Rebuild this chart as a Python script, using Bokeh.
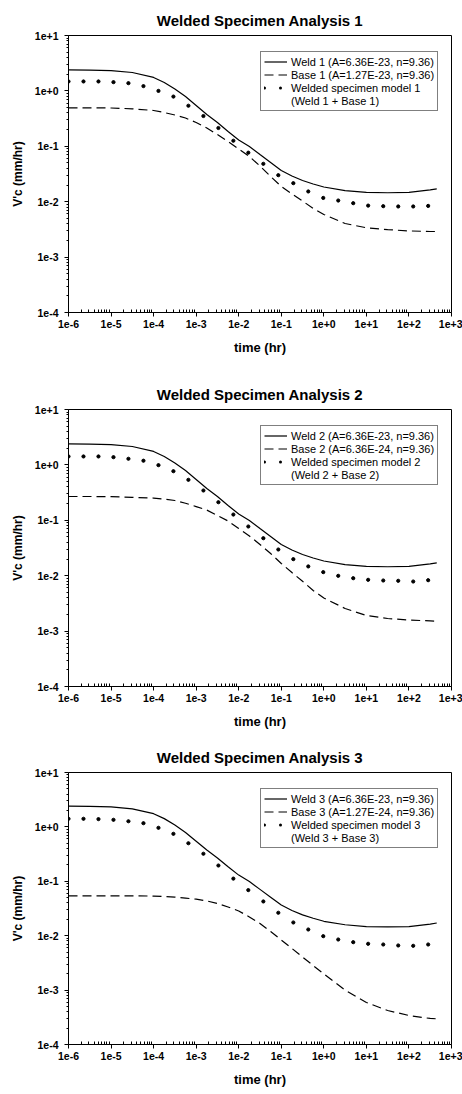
from bokeh.plotting import figure
from bokeh.models import FixedTicker, Legend, LegendItem
from bokeh.layouts import column
from bokeh.embed import file_html
from bokeh.resources import INLINE

NAN = float("nan")

# ---------------- data ----------------
t_line = [1e-6, 3.16e-6, 1e-5, 3.16e-5, 1e-4, 1.78e-4, 3.16e-4, 5.62e-4, 1e-3,
          1.78e-3, 3.16e-3, 5.62e-3, 1e-2, 1.78e-2, 3.16e-2, 5.62e-2, 0.1, 0.178,
          0.316, 0.562, 1.0, 3.16, 10.0, 31.6, 100.0, 316.0, 450.0]
t_dots = [1.0e-6, 2.25e-6, 5.06e-6, 1.14e-5, 2.56e-5, 5.77e-5, 1.30e-4, 2.92e-4,
          6.57e-4, 1.48e-3, 3.33e-3, 7.48e-3, 1.68e-2, 3.79e-2, 8.52e-2, 0.192,
          0.431, 0.970, 2.18, 4.91, 11.0, 24.9, 56.0, 126.0, 283.0]

weld = [2.40, 2.38, 2.33, 2.15, 1.75, 1.42, 1.08, 0.79, 0.545, 0.375, 0.269, 0.185,
        0.130, 0.0991, 0.0711, 0.0510, 0.0366, 0.0291, 0.0241, 0.0209, 0.0184,
        0.0159, 0.0147, 0.0145, 0.0147, 0.0163, 0.0171]

base1 = [0.495, 0.495, 0.491, 0.475, 0.443, 0.407, 0.367, 0.324, 0.269, 0.214, 0.163,
         0.122, 0.0894, 0.0654, 0.0441, 0.0285, 0.0188, 0.0138, 0.0103, 0.00754,
         0.00588, 0.00404, 0.00338, 0.00313, 0.00297, 0.00290, 0.00290]
base2 = [0.269, 0.269, 0.267, 0.260, 0.252, 0.242, 0.228, 0.203, 0.177, 0.153, 0.122,
         0.0971, 0.0711, 0.0521, 0.0366, 0.0252, 0.0166, 0.0114, 0.00793, 0.00541,
         0.00396, 0.00256, 0.00191, 0.00169, 0.00158, 0.00153, 0.00151]
base3 = [0.0541, 0.0541, 0.0541, 0.0541, 0.0535, 0.0526, 0.0513, 0.0491, 0.0469,
         0.0435, 0.0391, 0.0337, 0.0285, 0.0221, 0.0168, 0.0119, 0.00834, 0.00582,
         0.00406, 0.00283, 0.00198, 0.00100, 0.000592, 0.000422, 0.000341, 0.000301,
         0.000297]

model1 = [1.48, 1.48, 1.48, 1.44, 1.38, 1.22, 1.00, 0.79, 0.54, 0.352, 0.214, 0.126,
          0.0767, 0.0483, 0.0301, 0.0216, 0.0153, 0.0117, 0.0105, 0.0094, 0.0085,
          0.0083, 0.0082, 0.0082, 0.0084]
model2 = [1.42, 1.42, 1.42, 1.38, 1.29, 1.19, 0.99, 0.77, 0.538, 0.345, 0.212, 0.127,
          0.0773, 0.0475, 0.0297, 0.0199, 0.0147, 0.0116, 0.00995, 0.00901, 0.00843,
          0.00819, 0.00809, 0.00785, 0.00829]
model3 = [1.41, 1.41, 1.39, 1.35, 1.27, 1.17, 0.962, 0.746, 0.501, 0.321, 0.195, 0.112,
          0.0689, 0.0426, 0.0264, 0.0175, 0.0130, 0.0098, 0.00851, 0.00760, 0.00710,
          0.00689, 0.00661, 0.00652, 0.00689]

titles = ["Welded Specimen Analysis 1", "Welded Specimen Analysis 2", "Welded Specimen Analysis 3"]
weld_labels = ["Weld 1 (A=6.36E-23, n=9.36)", "Weld 2 (A=6.36E-23, n=9.36)", "Weld 3 (A=6.36E-23, n=9.36)"]
base_labels = ["Base 1 (A=1.27E-23, n=9.36)", "Base 2 (A=6.36E-24, n=9.36)", "Base 3 (A=1.27E-24, n=9.36)"]
model_labels = ["Welded specimen model 1", "Welded specimen model 2", "Welded specimen model 3"]
model_sub = ["(Weld 1 + Base 1)", "(Weld 2 + Base 2)", "(Weld 3 + Base 3)"]

x_ticks = [1e-6, 1e-5, 1e-4, 1e-3, 1e-2, 1e-1, 1e0, 1e1, 1e2, 1e3]
x_tick_labels = ["1e-6", "1e-5", "1e-4", "1e-3", "1e-2", "1e-1", "1e+0", "1e+1", "1e+2", "1e+3"]
y_ticks = [1e-4, 1e-3, 1e-2, 1e-1, 1e0, 1e1]
y_tick_labels = ["1e-4", "1e-3", "1e-2", "1e-1", "1e+0", "1e+1"]

x_label = "time (hr)"
y_label = "V'c (mm/hr)"

FONT = "Liberation Sans"


def minors(majors):
    out = []
    for m in majors[:-1]:
        for k in range(2, 10):
            out.append(m * k)
    return out


def make_panel(i, base, model, frame_h, top, bottom):
    p = figure(x_axis_type="log", y_axis_type="log",
               x_range=(1e-6, 1e3), y_range=(1e-4, 1e1),
               frame_width=383, frame_height=frame_h,
               min_border_left=68, min_border_right=11,
               min_border_top=top, min_border_bottom=bottom,
               output_backend="svg", toolbar_location=None,
               background_fill_color="white", border_fill_color="white")
    p.title.text = titles[i]
    p.title.align = "center"
    p.title.text_font = FONT
    p.title.text_font_size = "15px"
    p.title.text_font_style = "bold"
    p.title.text_color = "black"
    p.title.standoff = 14

    p.grid.visible = False
    p.outline_line_color = "black"
    p.outline_line_width = 1

    p.xaxis.ticker = FixedTicker(ticks=x_ticks, minor_ticks=minors(x_ticks))
    p.yaxis.ticker = FixedTicker(ticks=y_ticks, minor_ticks=minors(y_ticks))
    p.xaxis.major_label_overrides = dict(zip(x_ticks, x_tick_labels))
    p.yaxis.major_label_overrides = dict(zip(y_ticks, y_tick_labels))

    for ax in (p.xaxis[0], p.yaxis[0]):
        ax.axis_line_color = "black"
        ax.major_tick_line_color = "black"
        ax.minor_tick_line_color = "black"
        ax.major_label_text_font = FONT
        ax.major_label_text_font_size = "10.5px"
        ax.major_label_text_font_style = "bold"
        ax.major_label_text_color = "black"
        ax.axis_label_text_font = FONT
        ax.axis_label_text_font_style = "bold"
        ax.axis_label_text_color = "black"

    xa = p.xaxis[0]
    xa.major_tick_out = 4
    xa.major_tick_in = 0
    xa.minor_tick_out = 0
    xa.minor_tick_in = 3
    xa.major_label_standoff = 3
    xa.axis_label = x_label
    xa.axis_label_text_font_size = "13px"
    xa.axis_label_standoff = 9

    ya = p.yaxis[0]
    ya.major_tick_out = 4
    ya.major_tick_in = 0
    ya.minor_tick_out = 2
    ya.minor_tick_in = 0
    ya.major_label_standoff = 6
    ya.axis_label = y_label
    ya.axis_label_text_font_size = "12px"
    ya.axis_label_standoff = 7

    r_weld = p.line(t_line, weld, line_color="black", line_width=1.2)
    r_base = p.line(t_line, base, line_color="black", line_width=1.2, line_dash="9 5")
    p.scatter(t_dots, model, size=3.2, marker="circle", fill_color="black", line_color="black")
    r_dot_leg = p.line(t_line[:2], [NAN, NAN], line_color="black", line_width=3,
                       line_dash="0 16", line_cap="round")
    r_blank = p.line(t_line[:2], [NAN, NAN], line_alpha=0)

    legend = Legend(items=[
        LegendItem(label=weld_labels[i], renderers=[r_weld]),
        LegendItem(label=base_labels[i], renderers=[r_base]),
        LegendItem(label=model_labels[i], renderers=[r_dot_leg]),
        LegendItem(label=model_sub[i], renderers=[r_blank]),
    ])
    legend.location = (192, frame_h - 18 - 58)
    legend.label_text_font = FONT
    legend.label_text_font_size = "11px"
    legend.label_text_color = "black"
    legend.label_height = 13
    legend.glyph_height = 13
    legend.glyph_width = 23
    legend.label_standoff = 4
    legend.padding = 3
    legend.spacing = 0
    legend.margin = 0
    legend.border_line_color = "black"
    legend.border_line_width = 1
    legend.background_fill_color = "white"
    legend.background_fill_alpha = 1
    p.add_layout(legend, "center")
    return p


p1 = make_panel(0, base1, model1, 277, 35, 62)
p2 = make_panel(1, base2, model2, 277, 35, 51)
p3 = make_panel(2, base3, model3, 272, 35, 48)

layout = column(p1, p2, p3, spacing=0)
open("out.html", "w").write(file_html(layout, INLINE))
